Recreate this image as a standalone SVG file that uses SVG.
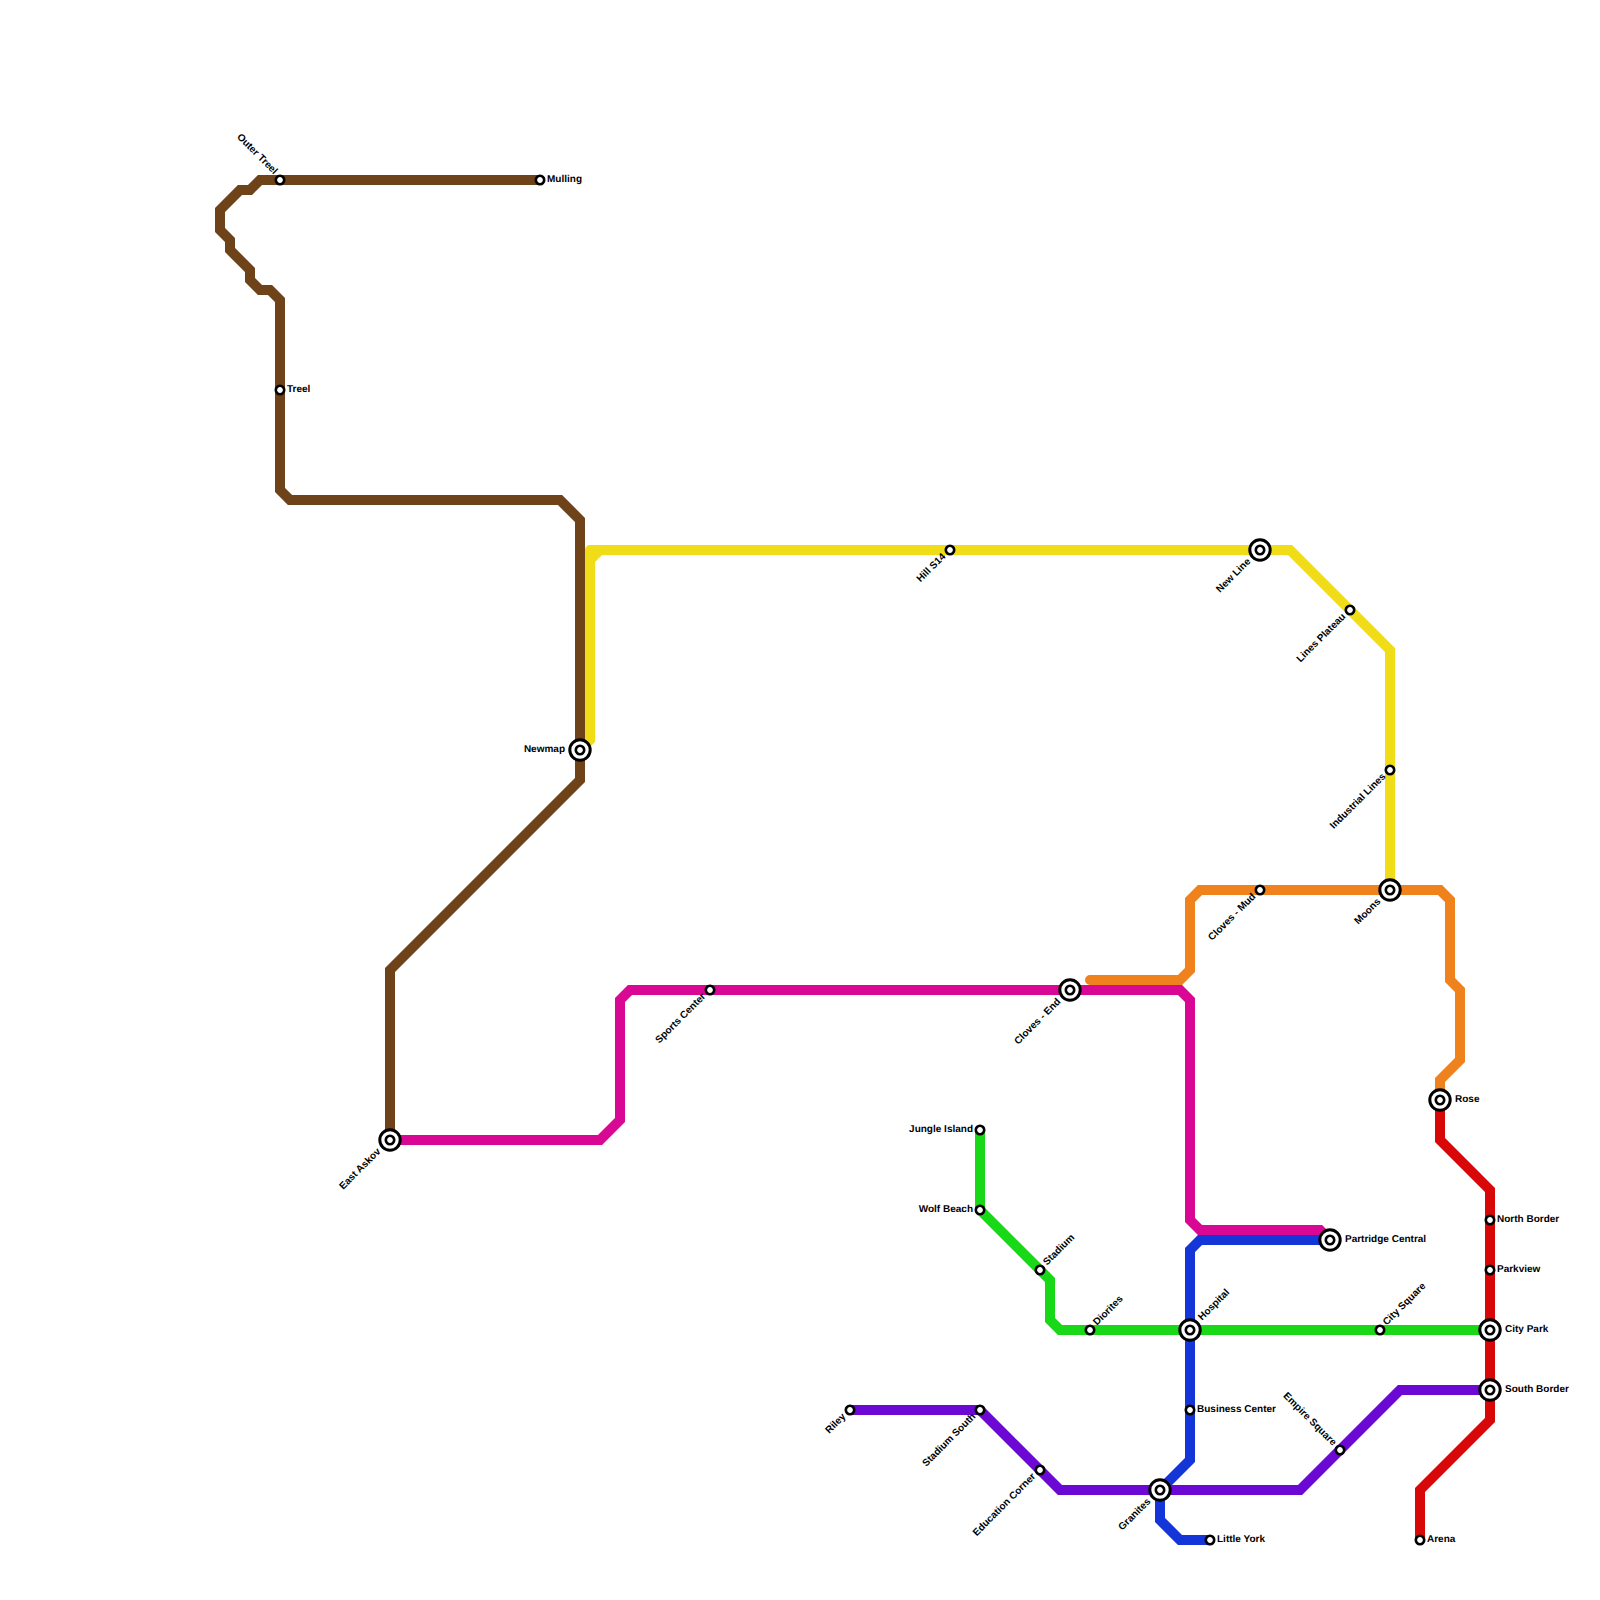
<svg xmlns="http://www.w3.org/2000/svg" width="1600" height="1600" viewBox="0 0 1600 1600">
<style>
.l{fill:none;stroke-width:10;stroke-linejoin:miter;stroke-linecap:round}
.c{stroke-linejoin:round}
.o{fill:#fff;stroke:#000;stroke-width:3}
.i{fill:#fff;stroke:#000;stroke-width:2.6}
text{font-family:"Liberation Sans",Arial,sans-serif;font-size:10px;font-weight:700;fill:#000;dominant-baseline:central;text-rendering:geometricPrecision}
.e{text-anchor:end}
</style>
<defs>
<g id="s"><circle class="i" r="4.2"/></g>
<g id="b"><circle class="o" r="10.2"/><circle class="i" r="4.2"/></g>
</defs>
<rect width="1600" height="1600" fill="#fff"/>
<g id="connectors">
<path class="l" stroke="#f0dd18" d="M580 750L590 740V560L600 550H1290L1390 650V890"/>
<path class="l c" stroke="#f0dd18" d="M590 560V550H600"/>
<path class="l" stroke="#6e431a" d="M540 180H260L250 190H240L220 210V230L230 240V250L250 270V280L260 290H270L280 300V490L290 500H560L580 520V780L390 970V1140"/>
<path class="l" stroke="#f0821e" d="M1090 980H1180L1190 970V900L1200 890H1440L1450 900V980L1460 990V1060L1440 1080V1100"/>
<path class="l" stroke="#d80894" d="M390 1140H600L620 1120V1000L630 990H1180L1190 1000V1220L1200 1230H1320L1330 1240"/>
<path class="l" stroke="#d80808" d="M1440 1100V1140L1490 1190V1420L1420 1490V1540"/>
<path class="l" stroke="#18d818" d="M980 1130V1210L1050 1280V1320L1060 1330H1490"/>
<path class="l" stroke="#1436d8" d="M1330 1240H1200L1190 1250V1460L1160 1490V1520L1180 1540H1210"/>
<path class="l" stroke="#6c08d4" d="M850 1410H980L1060 1490H1300L1400 1390H1490"/>
</g>
<g id="n-mulling"><use href="#s" x="540" y="180"/><text x="547" y="179">Mulling</text></g>
<g id="n-outer-treel"><use href="#s" x="280" y="180"/><text class="e" transform="translate(275.500 173) rotate(45)">Outer Treel</text></g>
<g id="n-treel"><use href="#s" x="280" y="390"/><text x="287" y="389">Treel</text></g>
<g id="n-newmap"><use href="#b" x="580" y="750"/><text class="e" x="565" y="749">Newmap</text></g>
<g id="n-east-askov"><use href="#b" x="390" y="1140"/><text class="e" transform="translate(379.300 1150.300) rotate(-45)">East Askov</text></g>
<g id="n-sports-center"><use href="#s" x="710" y="990"/><text class="e" transform="translate(704.300 995.300) rotate(-45)">Sports Center</text></g>
<g id="n-hill-s14"><use href="#s" x="950" y="550"/><text class="e" transform="translate(944.300 555.300) rotate(-45)">Hill S14</text></g>
<g id="n-new-line"><use href="#b" x="1260" y="550"/><text class="e" transform="translate(1249.300 560.300) rotate(-45)">New Line</text></g>
<g id="n-lines-plateau"><use href="#s" x="1350" y="610"/><text class="e" transform="translate(1344.300 615.300) rotate(-45)">Lines Plateau</text></g>
<g id="n-industrial-lines"><use href="#s" x="1390" y="770"/><text class="e" transform="translate(1384.300 775.300) rotate(-45)">Industrial Lines</text></g>
<g id="n-moons"><use href="#b" x="1390" y="890"/><text class="e" transform="translate(1379.300 900.300) rotate(-45)">Moons</text></g>
<g id="n-cloves-mud"><use href="#s" x="1260" y="890"/><text class="e" transform="translate(1254.300 895.300) rotate(-45)">Cloves - Mud</text></g>
<g id="n-cloves-end"><use href="#b" x="1070" y="990"/><text class="e" transform="translate(1059.300 1000.300) rotate(-45)">Cloves - End</text></g>
<g id="n-rose"><use href="#b" x="1440" y="1100"/><text x="1455" y="1099">Rose</text></g>
<g id="n-north-border"><use href="#s" x="1490" y="1220"/><text x="1497" y="1219">North Border</text></g>
<g id="n-parkview"><use href="#s" x="1490" y="1270"/><text x="1497" y="1269">Parkview</text></g>
<g id="n-city-park"><use href="#b" x="1490" y="1330"/><text x="1505" y="1329">City Park</text></g>
<g id="n-south-border"><use href="#b" x="1490" y="1390"/><text x="1505" y="1389">South Border</text></g>
<g id="n-arena"><use href="#s" x="1420" y="1540"/><text x="1427" y="1539">Arena</text></g>
<g id="n-jungle-island"><use href="#s" x="980" y="1130"/><text class="e" x="973" y="1129">Jungle Island</text></g>
<g id="n-wolf-beach"><use href="#s" x="980" y="1210"/><text class="e" x="973" y="1209">Wolf Beach</text></g>
<g id="n-stadium"><use href="#s" x="1040" y="1270"/><text transform="translate(1045.300 1264) rotate(-45)">Stadium</text></g>
<g id="n-diorites"><use href="#s" x="1090" y="1330"/><text transform="translate(1095.300 1324) rotate(-45)">Diorites</text></g>
<g id="n-hospital"><use href="#b" x="1190" y="1330"/><text transform="translate(1200.300 1319) rotate(-45)">Hospital</text></g>
<g id="n-city-square"><use href="#s" x="1380" y="1330"/><text transform="translate(1385 1324) rotate(-45)">City Square</text></g>
<g id="n-partridge-central"><use href="#b" x="1330" y="1240"/><text x="1345" y="1239">Partridge Central</text></g>
<g id="n-business-center"><use href="#s" x="1190" y="1410"/><text x="1197" y="1409">Business Center</text></g>
<g id="n-riley"><use href="#s" x="850" y="1410"/><text class="e" transform="translate(844.300 1415.300) rotate(-45)">Riley</text></g>
<g id="n-stadium-south"><use href="#s" x="980" y="1410"/><text class="e" transform="translate(974.300 1415.300) rotate(-45)">Stadium South</text></g>
<g id="n-education-corner"><use href="#s" x="1040" y="1470"/><text class="e" transform="translate(1034.300 1475.300) rotate(-45)">Education Corner</text></g>
<g id="n-granites"><use href="#b" x="1160" y="1490"/><text class="e" transform="translate(1149.300 1500.300) rotate(-45)">Granites</text></g>
<g id="n-little-york"><use href="#s" x="1210" y="1540"/><text x="1217" y="1539">Little York</text></g>
<g id="n-empire-square"><use href="#s" x="1340" y="1450"/><text class="e" transform="translate(1334.500 1444.500) rotate(45)">Empire Square</text></g>
</svg>
